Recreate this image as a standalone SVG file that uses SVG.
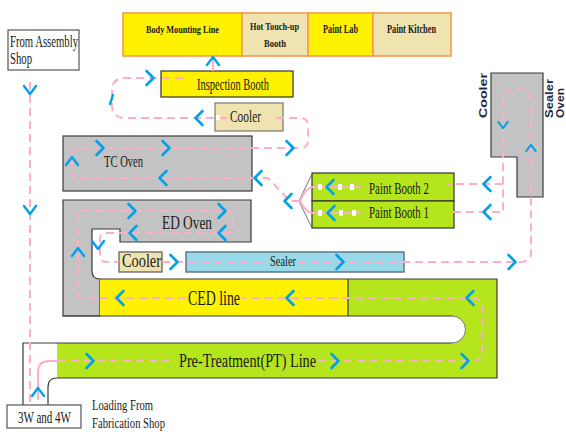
<svg xmlns="http://www.w3.org/2000/svg" width="566" height="432" viewBox="0 0 566 432">
<style>
.serif{font-family:"Liberation Serif","Times New Roman",serif;fill:#1a1a1a}
.bold{font-weight:bold}
.sans{font-family:"Liberation Sans",Arial,sans-serif;font-weight:bold;fill:#1f2a44;font-size:11px}
.flow{fill:none;stroke:#FFAEC9;stroke-width:2;stroke-dasharray:8 5}
.solid{fill:none;stroke:#FFAEC9;stroke-width:2}
.edge{fill:none;stroke:#3a3a3a;stroke-width:1.2}
.oven{fill:#C3C3C3;stroke:#3a3a3a;stroke-width:1.2}
.bar{stroke:#F39C4E;stroke-width:1.6}
.yellow{fill:#FFF200}
.beige{fill:#EFE4B0}
.green{fill:#B5E61D}
.dot{fill:#ffffff}
</style>
<defs>
  <!-- open chevron arrowheads used along the flow lines -->
  <path id="chev" d="M -3.5 -7 L 3.5 0 L -3.5 7" fill="none" stroke="#00A2E8" stroke-width="2.6" stroke-linecap="round" stroke-linejoin="round"/>
  <path id="chev2" d="M -4 -6 L 4 0 L -4 6" fill="none" stroke="#00A2E8" stroke-width="2.4" stroke-linecap="round" stroke-linejoin="round"/>
</defs>

<rect width="566" height="432" fill="#ffffff"/>

<!-- top row of areas -->
<g id="body-mounting-line">
  <rect x="123" y="13" width="119" height="43" class="yellow bar"/>
  <text class="serif bold" x="146" y="33" font-size="10.5" textLength="73" lengthAdjust="spacingAndGlyphs">Body Mounting Line</text>
</g>
<g id="hot-touchup-booth">
  <rect x="242" y="13" width="66" height="43" class="beige bar"/>
  <text class="serif bold" x="250" y="30" font-size="11" textLength="49" lengthAdjust="spacingAndGlyphs">Hot Touch-up</text>
  <text class="serif bold" x="264" y="47" font-size="11" textLength="22" lengthAdjust="spacingAndGlyphs">Booth</text>
</g>
<g id="paint-lab">
  <rect x="308" y="13" width="65" height="43" class="yellow bar"/>
  <text class="serif bold" x="323" y="33" font-size="11.5" textLength="35" lengthAdjust="spacingAndGlyphs">Paint Lab</text>
</g>
<g id="paint-kitchen">
  <rect x="373" y="13" width="78" height="43" class="beige bar"/>
  <text class="serif bold" x="387" y="33" font-size="11.5" textLength="49" lengthAdjust="spacingAndGlyphs">Paint Kitchen</text>
</g>

<g id="from-assembly">
  <rect x="8" y="30" width="71" height="40" fill="#ffffff" stroke="#555" stroke-width="1.2"/>
  <text class="serif" x="10" y="47" font-size="16" textLength="68" lengthAdjust="spacingAndGlyphs">From Assembly</text>
  <text class="serif" x="10" y="64" font-size="16" textLength="22" lengthAdjust="spacingAndGlyphs">Shop</text>
</g>

<g id="inspection-booth">
  <rect x="161" y="71" width="132" height="26" class="yellow" stroke="#333" stroke-width="1.2"/>
  <text class="serif" x="197" y="90" font-size="17" textLength="72" lengthAdjust="spacingAndGlyphs">Inspection Booth</text>
</g>

<g id="cooler-top">
  <rect x="215" y="103" width="68" height="28" class="beige" stroke="#777" stroke-width="1.2"/>
  <text class="serif" x="230" y="122" font-size="17" textLength="31" lengthAdjust="spacingAndGlyphs">Cooler</text>
</g>

<g id="tc-oven">
  <rect x="63" y="136" width="189" height="55" class="oven"/>
  <text class="serif" x="104" y="167" font-size="16" textLength="39" lengthAdjust="spacingAndGlyphs">TC Oven</text>
</g>

<g id="ed-oven">
  <path class="oven" d="M 63 200 H 251 V 242 H 120 V 229 H 92 V 271 Q 92 279 100 279 V 316 H 63 Z"/>
  <text class="serif" x="162" y="229" font-size="19.5" textLength="50" lengthAdjust="spacingAndGlyphs">ED Oven</text>
</g>

<g id="cooler-bottom">
  <rect x="119" y="252" width="43" height="20" class="beige" stroke="#555" stroke-width="1.2"/>
  <text class="serif" x="122" y="267" font-size="18" textLength="39" lengthAdjust="spacingAndGlyphs">Cooler</text>
</g>

<g id="sealer">
  <rect x="186" y="252" width="218" height="20" fill="#99D9EA" stroke="#5B6F7F" stroke-width="1.4"/>
  <text class="serif" x="270" y="266" font-size="15" textLength="26" lengthAdjust="spacingAndGlyphs">Sealer</text>
</g>

<g id="ced-line">
  <rect x="100" y="279" width="248" height="37" class="yellow"/>
  <text class="serif" x="188" y="305" font-size="20" textLength="52" lengthAdjust="spacingAndGlyphs">CED line</text>
</g>

<g id="pt-line">
  <path class="green" d="M 348 279 H 497 V 378 H 57 V 343 H 452 A 13.5 13.5 0 0 0 452 316 H 348 Z"/>
  <path class="edge" d="M 100 279 H 497 V 378 H 57"/>
  <path class="edge" d="M 63 316 H 452"/>
  <path fill="none" stroke="#777" stroke-width="1" d="M 452 316 A 13.5 13.5 0 0 1 452 343"/>
  <path class="edge" d="M 23 405 V 343 H 452"/>
  <path class="edge" d="M 48 405 V 387 Q 48 378 57 378"/>
  <path class="edge" d="M 348 279 V 316"/>
  <text class="serif" x="179" y="367" font-size="19" textLength="137" lengthAdjust="spacingAndGlyphs">Pre-Treatment(PT) Line</text>
</g>

<g id="paint-booth-2">
  <rect x="312" y="173" width="142" height="28" class="green" stroke="#333" stroke-width="1.2"/>
  <text class="serif" x="369" y="194" font-size="17" textLength="60" lengthAdjust="spacingAndGlyphs">Paint Booth 2</text>
</g>
<g id="paint-booth-1">
  <rect x="312" y="201" width="142" height="27" class="green" stroke="#333" stroke-width="1.2"/>
  <text class="serif" x="369" y="218" font-size="17" textLength="60" lengthAdjust="spacingAndGlyphs">Paint Booth 1</text>
</g>
<path id="booth-fan" d="M 312 174 L 299 201 L 312 228" fill="none" stroke="#555" stroke-width="0.8"/>

<g id="sealer-oven">
  <path class="oven" d="M 491 73 H 543 V 197 H 517 V 157 H 491 Z"/>
  <text class="sans" transform="translate(487 118) rotate(-90)" textLength="45" lengthAdjust="spacingAndGlyphs">Cooler</text>
  <text class="sans" transform="translate(553 118) rotate(-90)" textLength="39" lengthAdjust="spacingAndGlyphs">Sealer</text>
  <text class="sans" transform="translate(564 118) rotate(-90)" textLength="30" lengthAdjust="spacingAndGlyphs">Oven</text>
</g>

<g id="loading">
  <rect x="7" y="405" width="74" height="23" fill="#ffffff" stroke="#555" stroke-width="1.2"/>
  <text class="serif" x="18" y="423" font-size="16" textLength="53" lengthAdjust="spacingAndGlyphs">3W and 4W</text>
  <text class="serif" x="92" y="410" font-size="15" textLength="61" lengthAdjust="spacingAndGlyphs">Loading From</text>
  <text class="serif" x="92" y="428" font-size="15" textLength="73" lengthAdjust="spacingAndGlyphs">Fabrication Shop</text>
</g>

<!-- flow lines -->
<g id="connectors">
  <path class="flow" d="M 30 82 V 405"/>
  <path class="solid" d="M 38 400 V 372 Q 38 361 49 361 H 58"/>
  <path class="flow" d="M 58 361 H 176"/>
  <path class="flow" d="M 318 361 H 472 Q 482 361 482 351 V 308 Q 482 298 472 298 H 242"/>
  <path class="flow" d="M 186 298 H 83 Q 78 298 78 293 V 216 Q 78 211 83 211 H 226 Q 233 211 233 218 V 226 Q 233 233 226 233 H 106 Q 100 233 100 239 V 256 Q 100 262 106 262 H 119"/>
  <path class="flow" d="M 162 262 H 268"/>
  <path class="flow" d="M 298 262 H 521 Q 531 262 531 252 V 102 A 14 14 0 0 0 503 102 V 212 H 447"/>
  <path class="flow" d="M 503 184 H 447"/>
  <path class="solid" d="M 362 187 H 313 Q 306 187 300 201"/>
  <path class="solid" d="M 362 213 H 313 Q 306 213 300 201"/>
  <path class="flow" d="M 300 201 H 290 L 268 178 H 78 Q 72 178 72 172 V 154 Q 72 148 78 148 H 300 Q 308 148 308 140 V 126 Q 308 118 300 118 H 273"/>
  <path class="flow" d="M 227 118 H 125 Q 112 118 112 105 V 91 Q 112 78 125 78 H 186"/>
  <path class="solid" d="M 213 71 V 57"/>

  <!-- carrier marks -->
  <rect class="dot" x="216" y="115" width="4" height="5"/>
  <rect class="dot" x="318" y="184" width="4" height="6"/>
  <rect class="dot" x="338" y="184" width="4" height="6"/>
  <rect class="dot" x="350" y="184" width="4" height="6"/>
  <rect class="dot" x="318" y="210" width="4" height="6"/>
  <rect class="dot" x="339" y="210" width="4" height="6"/>
  <rect class="dot" x="352" y="210" width="4" height="6"/>

  <!-- direction marks: right -->
  <use href="#chev" transform="translate(100 148)"/>
  <use href="#chev" transform="translate(166 148)"/>
  <use href="#chev" transform="translate(290 148)"/>
  <use href="#chev" transform="translate(150 78)"/>
  <use href="#chev" transform="translate(132 211)"/>
  <use href="#chev" transform="translate(222 211)"/>
  <use href="#chev" transform="translate(174 262)"/>
  <use href="#chev" transform="translate(340 262)"/>
  <use href="#chev" transform="translate(512 262)"/>
  <use href="#chev" transform="translate(90 361)"/>
  <use href="#chev" transform="translate(335 361)"/>
  <use href="#chev" transform="translate(465 361)"/>
  <!-- left -->
  <use href="#chev" transform="translate(163 178) rotate(180)"/>
  <use href="#chev" transform="translate(258 178) rotate(180)"/>
  <use href="#chev" transform="translate(288 201) rotate(180)"/>
  <use href="#chev" transform="translate(199 118) rotate(180)"/>
  <use href="#chev" transform="translate(222 233) rotate(180)"/>
  <use href="#chev" transform="translate(133 233) rotate(180)"/>
  <use href="#chev" transform="translate(120 298) rotate(180)"/>
  <use href="#chev" transform="translate(290 298) rotate(180)"/>
  <use href="#chev" transform="translate(470 298) rotate(180)"/>
  <use href="#chev" transform="translate(330 187) rotate(180)"/>
  <use href="#chev" transform="translate(331 213) rotate(180)"/>
  <use href="#chev" transform="translate(487 184) rotate(180)"/>
  <use href="#chev" transform="translate(487 212) rotate(180)"/>
  <!-- up -->
  <use href="#chev2" transform="translate(213 61) rotate(-90)"/>
  <use href="#chev2" transform="translate(72 161) rotate(-90)"/>
  <use href="#chev2" transform="translate(78 252) rotate(-90)"/>
  <use href="#chev2" transform="translate(38 392) rotate(-90)"/>
  <use href="#chev2" transform="translate(531 148) rotate(-90) scale(0.8)"/>
  <!-- down -->
  <use href="#chev2" transform="translate(30 90) rotate(90)"/>
  <use href="#chev2" transform="translate(30 210) rotate(90)"/>
  <use href="#chev2" transform="translate(98 245) rotate(90)"/>
  <use href="#chev2" transform="translate(503 125) rotate(90) scale(0.8)"/>
  <path d="M 110 104 L 113 95" fill="none" stroke="#00A2E8" stroke-width="2.4" stroke-linecap="round"/>
</g>
</svg>
